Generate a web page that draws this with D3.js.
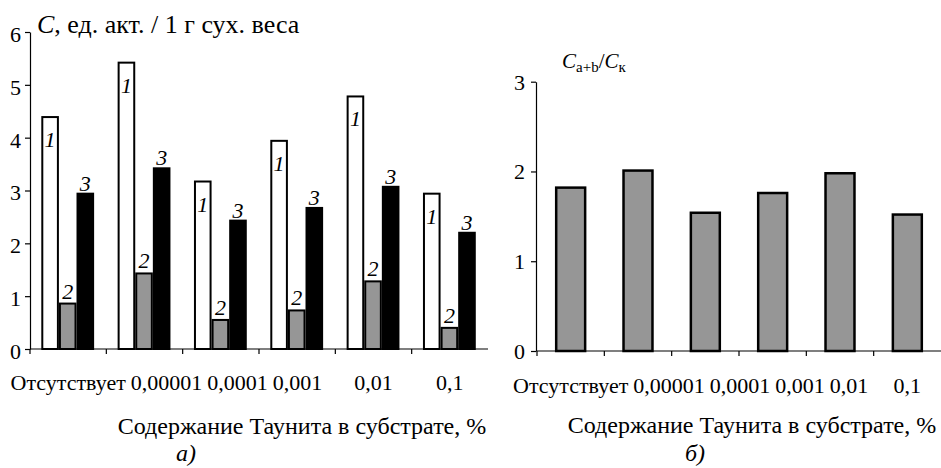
<!DOCTYPE html>
<html><head><meta charset="utf-8">
<script src="https://cdn.jsdelivr.net/npm/d3@7/dist/d3.min.js"></script>
<style>body{margin:0;background:#fff}</style>
</head><body>
<svg id="c" width="941" height="468"></svg>
<script>
// ---- data ----
const categories = ["Отсутствует","0,00001","0,0001","0,001","0,01","0,1"];
const series1 = [4.39,5.42,3.17,3.94,4.78,2.94];
const series2 = [0.86,1.43,0.55,0.73,1.28,0.40];
const series3 = [2.94,3.42,2.43,2.67,3.07,2.20];
const seriesNames = ["1","2","3"];
const ratio = [1.82,2.01,1.54,1.76,1.98,1.52];
const ticksA = [0,1,2,3,4,5,6];
const ticksB = [0,1,2,3];
const xTitle = "Содержание Таунита в субстрате, %";
const panelA = "а)";
const panelB = "б)";

const FONT = "Liberation Serif";
const svg = d3.select("#c");
const GRAY = "#969696";

// all texts are placed directly in the svg root
function txt(){ return svg.append("text").attr("font-family",FONT).attr("fill","#000"); }

function xLabels(x, baseline){
  let prevEnd = -Infinity;
  categories.forEach((c)=>{
    const t = txt().attr("y",baseline).attr("font-size",22).text(c);
    const w = t.node().getComputedTextLength();
    let s = x(c) + x.bandwidth()/2 - w/2;
    if (s < prevEnd + 5) s = prevEnd + 5;
    t.attr("x", s);
    prevEnd = s + w;
  });
}
function xAxisLine(g, x, y0){
  const r = x.range();
  g.append("line").attr("x1",r[0]).attr("x2",r[1]).attr("y1",y0).attr("y2",y0)
    .attr("stroke","#000").attr("stroke-width",1.2);
  g.selectAll(null).data(categories).enter().append("line")
    .attr("x1",d=>x(d)).attr("x2",d=>x(d)).attr("y1",y0).attr("y2",y0+5)
    .attr("stroke","#000").attr("stroke-width",1.2);
}
function yAxis(g, y, ticks, x0, pad, dy){
  const ax = d3.axisLeft(y).tickValues(ticks).tickFormat("")
    .tickSize(5).tickSizeOuter(0);
  const a = g.append("g").attr("transform",`translate(${x0},0)`).call(ax);
  a.select(".domain").attr("stroke","#000").attr("stroke-width",1.2);
  a.selectAll(".tick line").attr("stroke","#000").attr("stroke-width",1.2);
  ticks.forEach(v=>{
    txt().attr("x",x0-5-pad).attr("y",y(v)).attr("dy",dy).attr("text-anchor","end")
      .attr("font-size",22).text(d3.format("d")(v));
  });
}

// ---------- Panel A ----------
const gA = svg.append("g");
const xA = d3.scaleBand().domain(categories).range([30,488]).padding(0);
const yA = d3.scaleLinear().domain([0,6]).range([349,32]);
const bwA = xA.bandwidth();
const xSub = d3.scaleBand().domain([0,1,2]).range([bwA*0.148, bwA*0.84]).padding(0);
const cells = [];
categories.forEach((c,i)=>[series1[i],series2[i],series3[i]].forEach((v,k)=>cells.push({c,v,k})));
const fills = ["#fff", GRAY, "#000"];
gA.selectAll("rect").data(cells).enter().append("rect")
  .attr("x",d=>xA(d.c)+xSub(d.k)+1).attr("width",xSub.bandwidth()-2)
  .attr("y",d=>yA(d.v)).attr("height",d=>yA(0)-yA(d.v))
  .attr("fill",d=>fills[d.k]).attr("stroke","#000").attr("stroke-width",2);
cells.forEach(d=>{
  txt().attr("x",xA(d.c)+xSub(d.k)+xSub.bandwidth()/2)
    .attr("y",d.k===0 ? yA(d.v)+30 : yA(d.v)-(d.k===1?5:3))
    .attr("text-anchor","middle").attr("font-size",22).attr("font-style","italic")
    .text(seriesNames[d.k]);
});
yAxis(gA, yA, ticksA, 30, 4, "0.45em");
xAxisLine(gA, xA, 349);
xLabels(xA, 390);

const tA = txt().attr("x",37).attr("y",33).attr("font-size",26);
tA.append("tspan").attr("font-style","italic").text("C");
tA.append("tspan").text(", ед. акт. / 1 г сух. веса");
txt().attr("x",302).attr("y",434).attr("text-anchor","middle").attr("font-size",24).text(xTitle);
txt().attr("x",186).attr("y",461).attr("text-anchor","middle").attr("font-size",24).attr("font-style","italic").text(panelA);

// ---------- Panel B ----------
const gB = svg.append("g");
const xB = d3.scaleBand().domain(categories).range([537,941]).padding(0);
const yB = d3.scaleLinear().domain([0,3]).range([351,81.7]);
const bwB = xB.bandwidth();
gB.selectAll("rect").data(categories).enter().append("rect")
  .attr("x",(c)=>xB(c)+bwB*0.285).attr("width",bwB*0.43)
  .attr("y",(c,i)=>yB(ratio[i])).attr("height",(c,i)=>yB(0)-yB(ratio[i]))
  .attr("fill",GRAY).attr("stroke","#000").attr("stroke-width",2.5);
yAxis(gB, yB, ticksB, 536, 6, "0.36em");
xAxisLine(gB, xB, 351);
xLabels(xB, 393);

const tB = txt().attr("x",562).attr("y",68).attr("font-size",21);
tB.append("tspan").attr("font-style","italic").text("C");
tB.append("tspan").attr("font-size",15).attr("dy",4).text("a+b");
tB.append("tspan").attr("dy",-4).text("/");
tB.append("tspan").attr("font-style","italic").text("C");
tB.append("tspan").attr("font-size",15).attr("dy",4).text("к");
txt().attr("x",752).attr("y",433).attr("text-anchor","middle").attr("font-size",24).text(xTitle);
txt().attr("x",695).attr("y",461).attr("text-anchor","middle").attr("font-size",24).attr("font-style","italic").text(panelB);
</script>
</body></html>
